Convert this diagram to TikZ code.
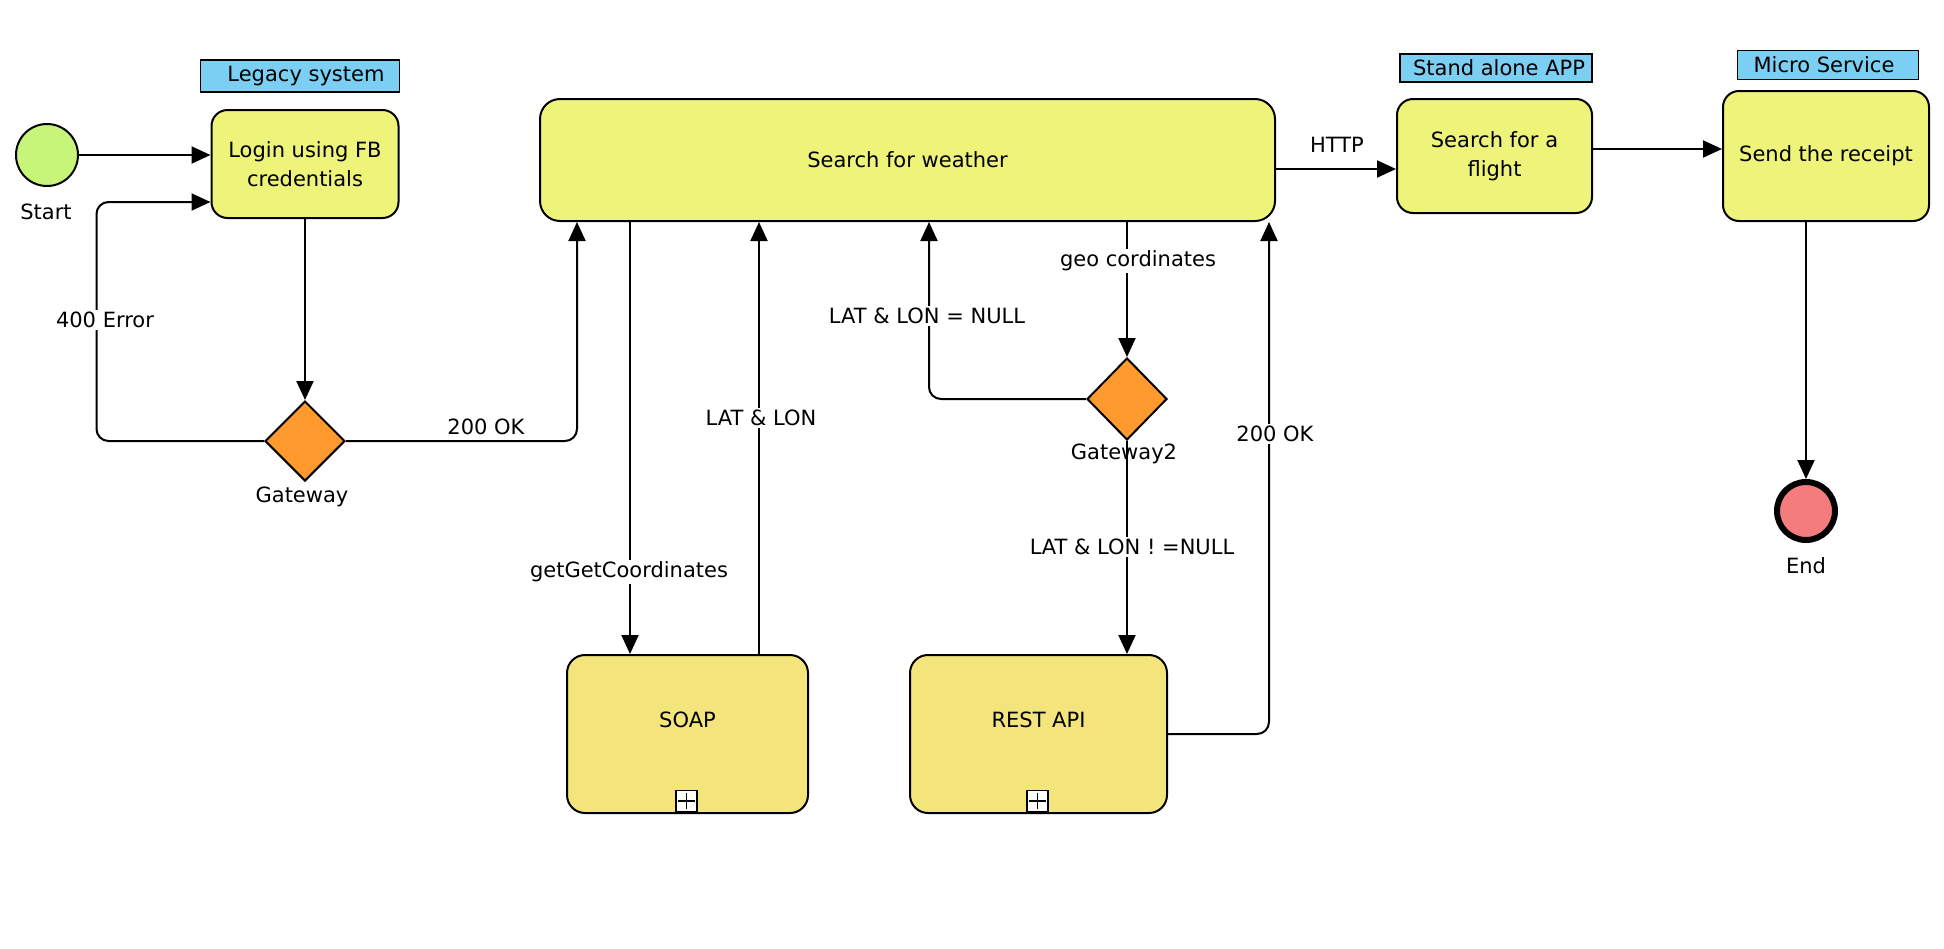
\documentclass[tikz,border=0pt]{standalone}
\usepackage{fontspec}
\setmainfont{DejaVu Sans}
\usetikzlibrary{arrows.meta,shapes.geometric,calc}
\definecolor{taskc}{RGB}{238,243,122}
\definecolor{subc}{RGB}{244,228,124}
\definecolor{startc}{RGB}{198,245,122}
\definecolor{gwc}{RGB}{254,154,46}
\definecolor{endc}{RGB}{244,124,124}
\definecolor{lanec}{RGB}{123,207,243}
\begin{document}
\begin{tikzpicture}[x=1pt,y=-1pt,
  font=\fontsize{21}{29}\selectfont,
  taskbox/.style={draw, line width=2pt, fill=taskc, rounded corners=16pt, align=center, inner sep=0pt},
  subbox/.style={draw, line width=2pt, fill=subc, rounded corners=18pt, inner sep=0pt},
  lane/.style={draw, line width=1.6pt, fill=lanec, inner sep=0pt},
  gateway/.style={draw, line width=2pt, fill=gwc, diamond, inner sep=0pt, minimum width=80pt, minimum height=80pt},
  startev/.style={draw, line width=2pt, fill=startc, circle, inner sep=0pt, minimum size=62pt},
  endev/.style={draw, line width=6pt, fill=endc, circle, inner sep=0pt, minimum size=58pt},
  plusbox/.style={draw, line width=1.2pt, fill=white, inner sep=0pt, minimum size=21pt},
  flow/.style={draw, line width=2pt, -{Triangle[length=19pt,width=17pt]}},
  lbl/.style={fill=white, inner sep=2pt},
  txt/.style={inner sep=0pt}]
\useasboundingbox (0,0) rectangle (1944,948);
% nodes
\node[startev] (start) at (47,155) {};
\node[txt] (startlbl) at (46,212) {Start};
\node[lane, minimum width=199pt, minimum height=32pt] (legacy) at (300,76) {\hspace*{12pt}Legacy system};
\node[taskbox, minimum width=187pt, minimum height=108pt] (login) at (305,164) {Login using FB\\credentials};
\node[gateway] (gw) at (305,441) {};
\node[txt] (gwlbl) at (302,497) {Gateway};
\node[taskbox, rounded corners=20pt, minimum width=735pt, minimum height=122pt] (search) at (907.5,160) {Search for weather};
\node[subbox, minimum width=241pt, minimum height=158pt, label={[yshift=14pt]center:SOAP}] (soap) at (687.5,734) {};
\node[subbox, minimum width=257pt, minimum height=158pt, label={[yshift=14pt]center:REST API}] (rest) at (1038.5,734) {};
\node[plusbox, anchor=south] (soapplus) at ([xshift=-1pt,yshift=2pt]soap.south) {};
\node[plusbox, anchor=south] (restplus) at ([xshift=-1pt,yshift=2pt]rest.south) {};
\draw[line width=1.4pt] ([yshift=-3pt]soapplus.north) -- ([yshift=3pt]soapplus.south)
  ([xshift=3pt]soapplus.west) -- ([xshift=-3pt]soapplus.east);
\draw[line width=1.4pt] ([yshift=-3pt]restplus.north) -- ([yshift=3pt]restplus.south)
  ([xshift=3pt]restplus.west) -- ([xshift=-3pt]restplus.east);
\node[gateway, minimum height=82pt] (gw2) at (1127,399) {};
\node[txt] (gw2lbl) at (1124,454) {Gateway2};
\node[lane, minimum width=192pt, minimum height=28pt] (standalone) at (1496,68) {\hspace*{6pt}Stand alone APP};
\node[taskbox, minimum width=195pt, minimum height=114pt] (flight) at (1494.5,156) {Search for a\\flight};
\node[lane, minimum width=181pt, minimum height=29pt] (micro) at (1828,65) {Micro Service\hspace*{8pt}};
\node[taskbox, minimum width=206pt, minimum height=130pt] (receipt) at (1826,156) {Send the receipt};
\node[endev] (endevt) at (1806,511) {};
\node[txt] (endlbl) at (1806,566) {End};
% connectors
\draw[flow] (start) -- (start -| login.west);
\draw[flow] (login.south -| gw.north) -- (gw.north);
\draw[flow, rounded corners=12pt] (gw.west) -| ([xshift=-114pt,yshift=-38pt]login.west) -- ([yshift=-38pt]login.west);
\node[lbl] (l400) at (105,320) {400 Error};
\draw[flow, rounded corners=12pt] (gw.east) -| ([xshift=38pt]search.south west);
\node[txt] (l200a) at (486,427) {200 OK};
\draw[flow] ([xshift=91pt]search.south west) -- ([xshift=91pt]search.south west |- soap.north);
\node[lbl] (lget) at (629,572) {getGetCoordinates};
\draw[flow] ([xshift=220pt]search.south west |- soap.north) -- ([xshift=220pt]search.south west);
\node[lbl] (llatlon) at (761,418) {LAT \& LON};
\draw[flow, rounded corners=12pt] (gw2.west) -| ([xshift=390pt]search.south west);
\node[lbl] (lnull) at (927,316) {LAT \& LON = NULL};
\draw[flow] ([xshift=588pt]search.south west) -- ([xshift=588pt]search.south west |- gw2.north);
\node[lbl] (lgeo) at (1138,261) {geo cordinates};
\draw[flow] (gw2.south) -- (gw2.south |- rest.north);
\node[lbl] (lnotnull) at (1132,547) {LAT \& LON ! =NULL};
\draw[flow, rounded corners=12pt] (rest.east) -| ([xshift=-7pt]search.south east);
\node[lbl] (l200b) at (1275,434) {200 OK};
\draw[flow] ([yshift=-9pt]search.east) -- ([yshift=-9pt]search.east -| flight.west);
\node[txt] (lhttp) at (1337,145) {HTTP};
\draw[flow] ([yshift=7pt]flight.east) -- ([yshift=7pt]flight.east -| receipt.west);
\draw[flow] (endevt.north |- receipt.south) -- (endevt.north);
\end{tikzpicture}
\end{document}
